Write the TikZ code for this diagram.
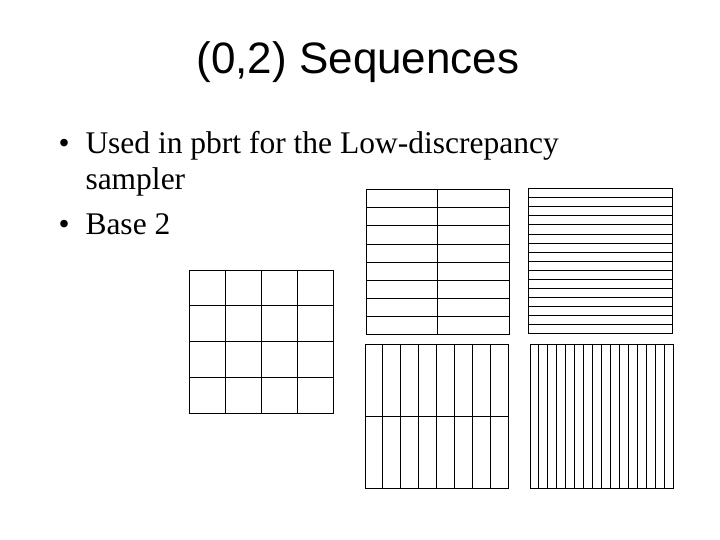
\documentclass[tikz,border=0pt]{standalone}
\usepackage{fontspec}
\setmainfont{Liberation Serif}
\setsansfont{Liberation Sans}
\begin{document}
\begin{tikzpicture}[x=1pt,y=-1pt,line width=1pt,
  body/.style={font=\fontsize{31.5}{36}\selectfont,anchor=base west,inner sep=0pt}]
\useasboundingbox (0,0) rectangle (720,540);
\node[font=\sffamily\fontsize{44}{48}\selectfont] (title) at (358,62) {(0,2) Sequences};
\node[body] (b1) at (58,154) {•};
\node[body] (t1) at (85,154) {Used in pbrt for the Low-discrepancy};
\node[body] (t2) at (85,190) {sampler};
\node[body] (b2) at (58,234) {•};
\node[body] (t3) at (85,234) {Base 2};
% grid 4x4
\draw (189,270) rectangle (333,413);
\foreach \i in {1,2,3}{\draw (189+36*\i,270) -- (189+36*\i,413); \draw (189,270+35.75*\i) -- (333,270+35.75*\i);}
% 2 cols x 8 rows
\draw (366,190) rectangle (509,334);
\draw (437.5,190) -- (437.5,334);
\foreach \i in {1,...,7}{\draw (366,190+18*\i) -- (509,190+18*\i);}
% 1 col x 16 rows
\draw (528,189) rectangle (672,333);
\foreach \i in {1,...,15}{\draw (528,189+9*\i) -- (672,189+9*\i);}
% 8 cols x 2 rows
\draw (365,344) rectangle (508,488);
\draw (365,416) -- (508,416);
\foreach \i in {1,...,7}{\draw (365+17.875*\i,344) -- (365+17.875*\i,488);}
% 16 cols
\draw (530,344) rectangle (673,488);
\foreach \i in {1,...,15}{\draw (530+8.9375*\i,344) -- (530+8.9375*\i,488);}
\end{tikzpicture}
\end{document}
